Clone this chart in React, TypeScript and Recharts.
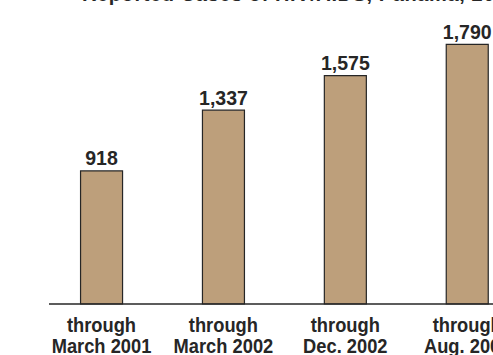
import { BarChart, Bar, XAxis, YAxis, LabelList } from 'recharts';

// cumulative reported cases at each cut-off date
const periodTop = ['through', 'through', 'through', 'through'];
const periodBottom = ['March 2001', 'March 2002', 'Dec. 2002', 'Aug. 2003'];
const cases = [918, 1337, 1575, 1790];

const data = cases.map((value, idx) => ({ idx, value }));

const FONT = '"Liberation Sans", Arial, Helvetica, sans-serif';
const BAR_FILL = '#bd9f7b';
const INK = '#262626';

const PeriodTick = (props: any) => {
  const { x, y, payload } = props;
  const i = payload.value as number;
  const line = (txt: string, dy: number) => (
    <text
      transform={`translate(${x},${y + dy}) scale(1,1.15)`}
      textAnchor="middle"
      fontFamily={FONT}
      fontWeight={700}
      fontSize={18.3}
      fill={INK}
    >
      {txt}
    </text>
  );
  return (
    <g>
      {line(periodTop[i], 27.5)}
      {line(periodBottom[i], 48.5)}
    </g>
  );
};

export default function App() {
  return (
    <div style={{ position: 'absolute', left: 0, top: 0, width: 493, height: 355, overflow: 'hidden', background: '#fff' }}>
      <div
        style={{
          position: 'absolute',
          left: 82,
          top: -16,
          fontFamily: FONT,
          fontWeight: 700,
          fontSize: 20,
          lineHeight: '20px',
          letterSpacing: 0.6,
          color: INK,
          whiteSpace: 'nowrap',
        }}
      >
        Reported Cases of HIV/AIDS, Panama, 2001-2003
      </div>
      <BarChart
        width={493}
        height={355}
        data={data}
        margin={{ top: 14, right: 0, left: 49, bottom: 0 }}
        style={{ position: 'absolute', left: 0, top: 0 }}
      >
        <XAxis
          dataKey="idx"
          type="number"
          domain={[-0.4307, 3.2117]}
          allowDataOverflow
          ticks={[0, 1, 2, 3]}
          interval={0}
          tickLine={false}
          tickSize={0}
          tickMargin={0}
          axisLine={{ stroke: INK, strokeWidth: 1.5 }}
          tick={<PeriodTick />}
          height={51}
        />
        <YAxis hide domain={[0, 2000]} />
        <Bar
          dataKey="value"
          fill={BAR_FILL}
          stroke={INK}
          strokeWidth={1.2}
          barSize={42}
          isAnimationActive={false}
        >
          <LabelList
            dataKey="value"
            position="top"
            offset={5.5}
            formatter={(v: any) => Number(v).toLocaleString('en-US')}
            style={{ fontFamily: FONT, fontWeight: 700, fontSize: 19.5, fill: INK }}
          />
        </Bar>
      </BarChart>
    </div>
  );
}
